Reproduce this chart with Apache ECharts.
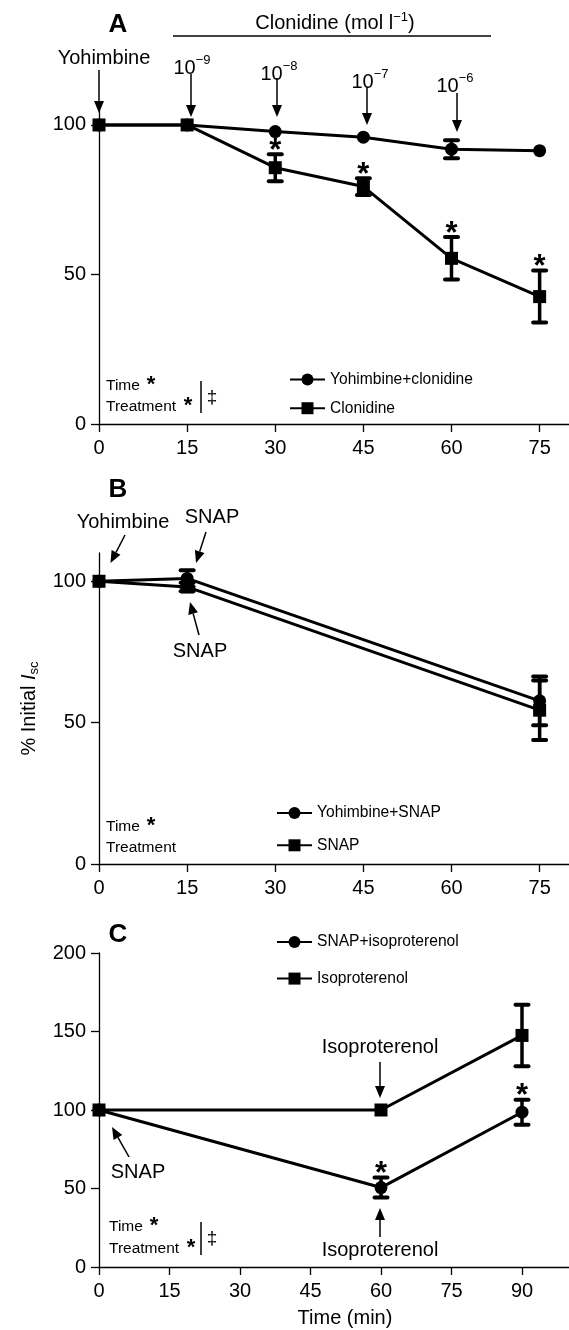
<!DOCTYPE html>
<html>
<head>
<meta charset="utf-8">
<script src="https://cdn.jsdelivr.net/npm/echarts@6/dist/echarts.min.js"></script>
<style>
  html, body { margin: 0; padding: 0; background: #fff; }
  #chart { width: 569px; height: 1330px; }
</style>
</head>
<body>
<div id="chart"></div>
<script>
// ---- panel A: clonidine ----
const timeA = [0, 15, 30, 45, 60, 75];
const yohClon = [100, 100, 97.8, 95.9, 91.9, 91.4];
const yohClonErr = [0, 0, 0, 0, 3, 0];
const yohClonStar = [0, 0, 0, 0, 0, 0];
const clon = [100, 100, 85.7, 79.4, 55.4, 42.6];
const clonErr = [0, 0, 4.5, 2.8, 7.1, 8.7];
const clonStar = [0, 0, 1, 1, 1, 1];
const xTicksAB = [0, 15, 30, 45, 60, 75];
const yTicksAB = [0, 50, 100];

// ---- panel B: SNAP ----
const timeB = [0, 15, 75];
const yohSnap = [100, 101, 57.7];
const yohSnapErr = [0, 2.9, 8.6];
const snap = [100, 98, 54.4];
const snapErr = [0, 1.5, 10.5];
const noStar = [0, 0, 0];

// ---- panel C: isoproterenol ----
const timeC = [0, 60, 90];
const snapIso = [100, 50.6, 98.6];
const snapIsoErr = [0, 6.4, 8];
const snapIsoStar = [0, 1, 1];
const iso = [100, 100, 147.5];
const isoErr = [0, 0, 19.6];
const xTicksC = [0, 15, 30, 45, 60, 75, 90];
const yTicksC = [0, 50, 100, 150, 200];

const FONT = '"Liberation Sans", Arial, sans-serif';

const chart = echarts.init(document.getElementById('chart'));

function xAxis(gi, max, ticks) {
  return {
    type: 'value', gridIndex: gi, min: 0, max: max,
    axisLine: { show: true, onZero: false, lineStyle: { color: '#000', width: 1.3 } },
    axisTick: { show: true, length: 8, customValues: ticks, lineStyle: { color: '#000', width: 1.3 } },
    axisLabel: { show: true, customValues: ticks, margin: 14, color: '#000', fontSize: 20, fontFamily: FONT },
    splitLine: { show: false }
  };
}
function yAxis(gi, max, ticks, extra) {
  return Object.assign({
    type: 'value', gridIndex: gi, min: 0, max: max,
    axisLine: { show: true, onZero: false, lineStyle: { color: '#000', width: 1.3 } },
    axisTick: { show: true, length: 8, customValues: ticks, lineStyle: { color: '#000', width: 1.3 } },
    axisLabel: { show: true, customValues: ticks, margin: 13, color: '#000', fontSize: 20, fontFamily: FONT },
    splitLine: { show: false }
  }, extra || {});
}

function lineSeries(name, gi, xs, ys, symbol) {
  return {
    name: name, type: 'line', xAxisIndex: gi, yAxisIndex: gi,
    data: xs.map((x, i) => [x, ys[i]]),
    symbol: symbol, symbolSize: 13, showAllSymbol: true,
    lineStyle: { color: '#000', width: 3 },
    itemStyle: { color: '#000' },
    emphasis: { disabled: true },
    clip: false, z: 3
  };
}

// error bars + significance stars, drawn through the axes
function errSeries(gi, xs, ys, errs, stars) {
  return {
    type: 'custom', xAxisIndex: gi, yAxisIndex: gi, z: 4, clip: false,
    data: xs.map((x, i) => [x, ys[i], errs[i], stars[i]]),
    renderItem: function (params, api) {
      const x = api.value(0), m = api.value(1), e = api.value(2), s = api.value(3);
      const top = api.coord([x, m + e]);
      const bot = api.coord([x, m - e]);
      const kids = [];
      if (e > 0) {
        kids.push({ type: 'line', shape: { x1: top[0], y1: top[1], x2: bot[0], y2: bot[1] }, style: { stroke: '#000', lineWidth: 3.5 } });
        [top, bot].forEach(p => kids.push({
          type: 'line', shape: { x1: p[0] - 6.5, y1: p[1], x2: p[0] + 6.5, y2: p[1] },
          style: { stroke: '#000', lineWidth: 4, lineCap: 'round' }
        }));
      }
      if (s) {
        kids.push({ type: 'text', x: top[0], y: top[1] - 3,
          style: { text: '*', fill: '#000', fontSize: 31, fontWeight: 'bold', fontFamily: FONT, align: 'center', verticalAlign: 'middle' } });
      }
      return { type: 'group', children: kids };
    }
  };
}

function txt(text, x, y, size, extra) {
  return {
    type: 'text', x: x, y: y, z: 100,
    style: Object.assign({ text: text, fill: '#000', fontSize: size, fontFamily: FONT, align: 'center', verticalAlign: 'middle' }, extra || {})
  };
}
function arrow(x1, y1, x2, y2) {
  const a = Math.atan2(y2 - y1, x2 - x1), L = 12, W = 5;
  const bx = x2 - L * Math.cos(a), by = y2 - L * Math.sin(a);
  const px = -Math.sin(a) * W, py = Math.cos(a) * W;
  return [
    { type: 'line', z: 100, shape: { x1: x1, y1: y1, x2: bx, y2: by }, style: { stroke: '#000', lineWidth: 1.5 } },
    { type: 'polygon', z: 100, shape: { points: [[x2, y2], [bx + px, by + py], [bx - px, by - py]] }, style: { fill: '#000' } }
  ];
}
function vline(x, y1, y2) {
  return { type: 'line', z: 100, shape: { x1: x, y1: y1, x2: x, y2: y2 }, style: { stroke: '#000', lineWidth: 1.5 } };
}
const supRich = {
  b: { fontSize: 20, lineHeight: 24, fontFamily: FONT, verticalAlign: 'bottom' },
  sup: { fontSize: 13, lineHeight: 13, fontFamily: FONT, verticalAlign: 'top' }
};
function power(exp, x, y) {
  return txt('{b|10}{sup|−' + exp + '}', x, y, 20, { rich: supRich });
}
function stats(x, y1, y2, treatStar, dagger, barX) {
  const els = [
    txt('Time', x, y1, 15.5, { align: 'left' }),
    txt('*', x + 45, y1 - 1, 22, { fontWeight: 'bold' }),
    txt('Treatment', x, y2, 15.5, { align: 'left' })
  ];
  if (treatStar) els.push(txt('*', x + 82, y2 - 1, 22, { fontWeight: 'bold' }));
  if (dagger) {
    els.push(vline(barX, y1 - 5, y2 + 6));
    els.push(txt('‡', barX + 11, (y1 + y2) / 2 + 1, 19));
  }
  return els;
}

const graphics = [].concat(
  // panel A
  txt('A', 118, 25, 26, { fontWeight: 'bold' }),
  txt('Clonidine (mol l{sup|−1})', 335, 23, 20, { rich: { sup: { fontSize: 13, lineHeight: 13, fontFamily: FONT, verticalAlign: 'top' } }, lineHeight: 24 }),
  [{ type: 'line', z: 100, shape: { x1: 173, y1: 36, x2: 491, y2: 36 }, style: { stroke: '#000', lineWidth: 1.3 } }],
  txt('Yohimbine', 104, 58, 20),
  power(9, 192, 66), power(8, 279, 72), power(7, 370, 80), power(6, 455, 84),
  arrow(99, 70, 99, 113), arrow(191, 74, 191, 117), arrow(277, 78, 277, 117),
  arrow(367, 87, 367, 125), arrow(457, 93, 457, 132),
  stats(106, 386, 407, true, true, 201),
  // panel B
  txt('B', 118, 490, 26, { fontWeight: 'bold' }),
  txt('Yohimbine', 123, 522, 20),
  arrow(125, 535, 110.5, 563),
  txt('SNAP', 212, 517, 20),
  arrow(206, 532, 196, 563),
  txt('SNAP', 200, 651, 20),
  arrow(199, 635, 190, 602),
  stats(106, 827, 848, false, false, 0),
  // panel C
  txt('C', 118, 935, 26, { fontWeight: 'bold' }),
  txt('Isoproterenol', 380, 1047, 20),
  arrow(380, 1062, 380, 1098),
  txt('Isoproterenol', 380, 1250, 20),
  arrow(380, 1237, 380, 1208),
  txt('SNAP', 138, 1172, 20),
  arrow(129, 1157, 112, 1127),
  stats(109, 1227, 1249, true, true, 201),
  txt('Time (min)', 345, 1318, 20)
);

function legend(names, left, top, gap) {
  return {
    data: names, left: left, top: top, orient: 'vertical', padding: 0,
    itemWidth: 35, itemHeight: 15, itemGap: gap, selectedMode: false,
    textStyle: { fontSize: 15.6, color: '#000', fontFamily: FONT, lineHeight: 15 }
  };
}

const option = {
  animation: false,
  backgroundColor: '#fff',
  grid: [
    { left: 99, top: 110, width: 470, height: 314, containLabel: false, outerBoundsMode: 'none' },
    { left: 99, top: 553, width: 470, height: 311, containLabel: false, outerBoundsMode: 'none' },
    { left: 99, top: 953, width: 470, height: 314, containLabel: false, outerBoundsMode: 'none' }
  ],
  xAxis: [xAxis(0, 80, xTicksAB), xAxis(1, 80, xTicksAB), xAxis(2, 100, xTicksC)],
  yAxis: [
    yAxis(0, 105, yTicksAB),
    yAxis(1, 110, yTicksAB, {
      name: '% Initial {it|I}{sub|sc}', nameLocation: 'middle', nameGap: 58,
      nameTextStyle: {
        color: '#000', fontSize: 20, fontFamily: FONT, lineHeight: 24,
        rich: {
          it: { fontSize: 20, fontStyle: 'italic', fontFamily: FONT, lineHeight: 24 },
          sub: { fontSize: 13, fontFamily: FONT, lineHeight: 13, verticalAlign: 'bottom' }
        }
      }
    }),
    yAxis(2, 200, yTicksC)
  ],
  legend: [
    legend(['Yohimbine+clonidine', 'Clonidine'], 289, 371.5, 12.7),
    legend(['Yohimbine+SNAP', 'SNAP'], 276, 805, 16.3),
    legend(['SNAP+isoproterenol', 'Isoproterenol'], 276, 934, 20.6)
  ],
  series: [
    lineSeries('Yohimbine+clonidine', 0, timeA, yohClon, 'circle'),
    lineSeries('Clonidine', 0, timeA, clon, 'rect'),
    errSeries(0, timeA, yohClon, yohClonErr, yohClonStar),
    errSeries(0, timeA, clon, clonErr, clonStar),

    lineSeries('Yohimbine+SNAP', 1, timeB, yohSnap, 'circle'),
    lineSeries('SNAP', 1, timeB, snap, 'rect'),
    errSeries(1, timeB, yohSnap, yohSnapErr, noStar),
    errSeries(1, timeB, snap, snapErr, noStar),

    lineSeries('SNAP+isoproterenol', 2, timeC, snapIso, 'circle'),
    lineSeries('Isoproterenol', 2, timeC, iso, 'rect'),
    errSeries(2, timeC, snapIso, snapIsoErr, snapIsoStar),
    errSeries(2, timeC, iso, isoErr, noStar)
  ],
  graphic: { elements: graphics }
};

chart.setOption(option);
</script>
</body>
</html>
